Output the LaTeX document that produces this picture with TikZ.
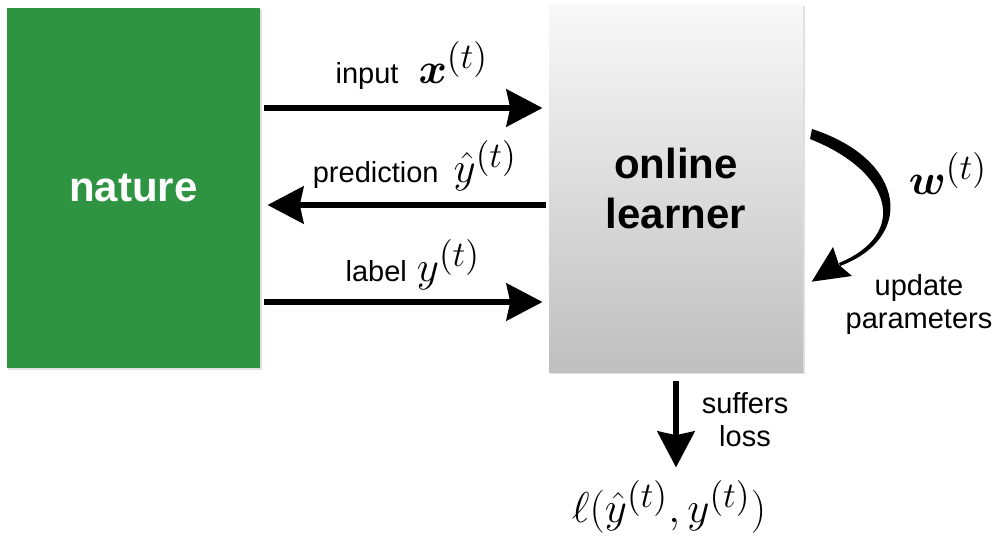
\documentclass[tikz,border=0pt]{standalone}
\usepackage{amsmath,bm}
\usepackage[no-math]{fontspec}
\setmainfont{Liberation Sans}
\usetikzlibrary{arrows.meta,shadows}
\definecolor{naturegreen}{HTML}{2E9441}
\newcommand{\smalltxt}{\fontsize{11.6}{13.2}\selectfont}

\begin{document}
\begin{tikzpicture}[x=0.4pt,y=-0.4pt,
  font=\fontsize{19}{22}\selectfont,
  bigarrow/.style={line width=2.4pt,-{Stealth[length=14.4pt,width=14.8pt,inset=1.5pt]}}]
\useasboundingbox (0,0) rectangle (997,537);
\node[minimum width=101.2pt, minimum height=144pt, fill=naturegreen, text=white,
  font=\fontsize{16.8}{20}\selectfont\bfseries,
  drop shadow={shadow xshift=0.6pt, shadow yshift=-0.6pt, opacity=0.25}] (nature) at (133.5,188) {nature};
\node[minimum width=101.6pt, minimum height=146.8pt, top color=gray!5, bottom color=gray!50,
  font=\fontsize{16.8}{20}\selectfont\bfseries, align=center,
  drop shadow={shadow xshift=0.6pt, shadow yshift=-0.6pt, opacity=0.25}] (learner) at (676,188.5) {online\\learner};
% messages between nature and learner
\draw[bigarrow, shorten <=1.2pt, shorten >=2.4pt] (nature.east |- 0,108) -- (learner.west |- 0,108);
\draw[bigarrow, shorten <=1.2pt, shorten >=2.8pt] (learner.west |- 0,205) -- (nature.east |- 0,205);
\draw[bigarrow, shorten <=1.2pt, shorten >=2.4pt] (nature.east |- 0,302) -- (learner.west |- 0,302);
\node[anchor=base] (inlab) at (412,84) {{\smalltxt input}\hspace{8pt}$\bm{x}^{(t)}$};
\node[anchor=base] (predlab) at (415,183) {{\smalltxt prediction}\hspace{6pt}$\hat{y}^{(t)}$};
\node[anchor=base] (lablab) at (413,282) {{\smalltxt label}\hspace{4pt}$y^{(t)}$};
% update of the weights
\fill (812,129) .. controls (907,160) and (915,238) .. (840,266) -- (839,263)
  .. controls (909,234) and (893,172) .. (810,139) -- cycle;
\fill (811.7,281.7) -- (833,247) -- (839,265) -- (852,276) -- cycle;
\node[anchor=base] (wlab) at (948,195) {$\bm{w}^{(t)}$};
\node[font=\smalltxt, align=center] (update) at (919,305) {update\\parameters};
% loss
\node (loss) at (669,507) {$\ell(\hat{y}^{(t)}, y^{(t)})$};
\draw[bigarrow, shorten <=3.2pt, shorten >=1.6pt] (learner.south) -- (learner.south |- loss.north);
\node[font=\smalltxt, align=center] (suffers) at (745,420) {suffers\\loss};
\end{tikzpicture}
\end{document}
